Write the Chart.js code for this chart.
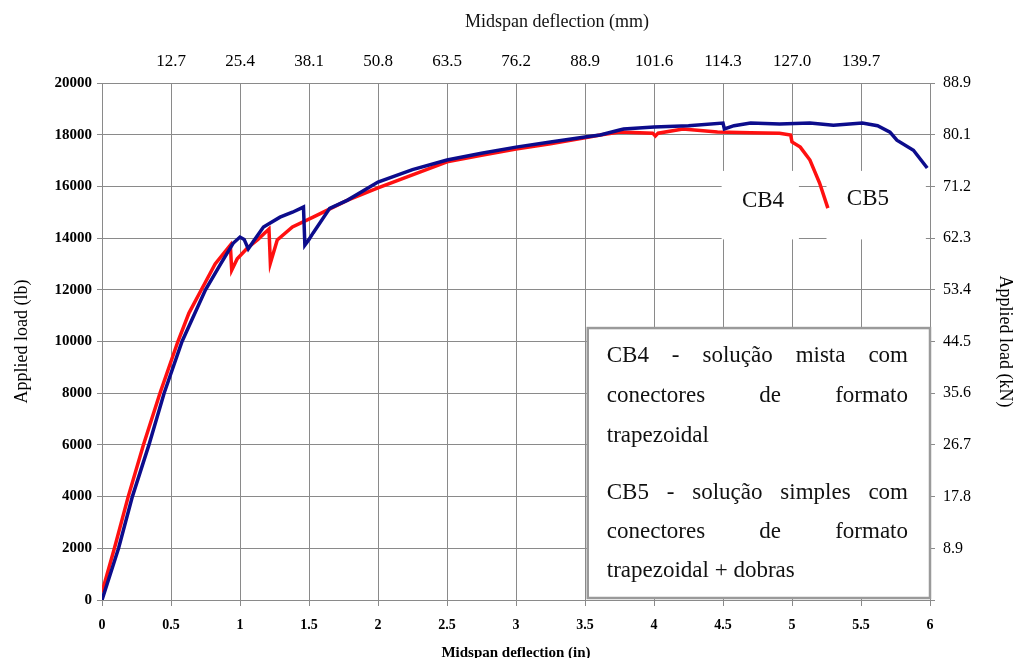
<!DOCTYPE html>
<html>
<head>
<meta charset="utf-8">
<script src="https://cdn.jsdelivr.net/npm/chart.js@4/dist/chart.umd.min.js"></script>
<style>
  html, body { margin: 0; padding: 0; background: #fff; }
  canvas { display: block; }
</style>
</head>
<body>
<canvas id="loadChart" width="1018" height="658"></canvas>
<script>
// CB4 - red curve (deflection in inches, load in lb)
const cb4Deflection = [0, 0.09, 0.19, 0.30, 0.42, 0.55, 0.63, 0.72, 0.82, 0.93, 0.94, 0.98, 1.05, 1.13, 1.21, 1.22, 1.27, 1.38, 1.53, 1.78, 2.0, 2.25, 2.5, 2.75, 3.0, 3.25, 3.5, 3.61, 3.75, 3.99, 4.01, 4.03, 4.21, 4.46, 4.70, 4.91, 4.99, 5.00, 5.06, 5.13, 5.20, 5.26];
const cb4Load = [300, 2000, 4000, 6000, 8000, 10000, 11100, 12000, 13000, 13730, 12760, 13200, 13600, 13950, 14350, 13030, 13930, 14430, 14810, 15470, 15940, 16450, 16950, 17200, 17450, 17650, 17880, 17990, 18100, 18060, 17950, 18060, 18220, 18100, 18080, 18060, 17990, 17720, 17520, 17020, 16130, 15160];

// CB5 - blue curve
const cb5Deflection = [0, 0.12, 0.22, 0.34, 0.45, 0.58, 0.75, 0.86, 0.95, 1.00, 1.03, 1.06, 1.10, 1.17, 1.29, 1.38, 1.46, 1.47, 1.50, 1.53, 1.65, 1.78, 2.0, 2.25, 2.5, 2.75, 3.0, 3.25, 3.5, 3.61, 3.75, 3.78, 4.0, 4.25, 4.5, 4.51, 4.58, 4.70, 4.91, 5.13, 5.30, 5.51, 5.62, 5.71, 5.76, 5.88, 5.98];
const cb5Load = [0, 2000, 4000, 6000, 8000, 10000, 12000, 13000, 13800, 14040, 13950, 13580, 13900, 14430, 14810, 15000, 15200, 13730, 13950, 14200, 15150, 15470, 16170, 16650, 17020, 17280, 17520, 17720, 17910, 17990, 18180, 18220, 18300, 18350, 18450, 18220, 18350, 18450, 18410, 18450, 18370, 18450, 18350, 18100, 17790, 17400, 16710];

// secondary axis labels (mm on top, kN on the right)
const topTickLabels = ['', '12.7', '25.4', '38.1', '50.8', '63.5', '76.2', '88.9', '101.6', '114.3', '127.0', '139.7', ''];
const rightTickLabels = ['', '8.9', '17.8', '26.7', '35.6', '44.5', '53.4', '62.3', '71.2', '80.1', '88.9'];

const legendLines = [
  { text: 'CB4 - solução mista com', justify: true },
  { text: 'conectores de formato', justify: true },
  { text: 'trapezoidal', justify: false },
  { text: 'CB5 - solução simples com', justify: true },
  { text: 'conectores de formato', justify: true },
  { text: 'trapezoidal + dobras', justify: false }
];

Chart.defaults.font.family = '"Liberation Serif", "Times New Roman", serif';
Chart.defaults.color = '#000';

const gridColor = '#8a8a8a';

function toPoints(xs, ys) {
  return xs.map((x, i) => ({ x: x, y: ys[i] }));
}

function drawJustified(ctx, text, left, right, y, justify) {
  if (!justify) {
    ctx.fillText(text, left, y);
    return;
  }
  const words = text.split(' ');
  let total = 0;
  words.forEach(w => { total += ctx.measureText(w).width; });
  const gap = (right - left - total) / (words.length - 1);
  let x = left;
  words.forEach(w => {
    ctx.fillText(w, x, y);
    x += ctx.measureText(w).width + gap;
  });
}

// white patches behind the CB4 / CB5 labels
const labelPatches = {
  id: 'labelPatches',
  beforeDatasetsDraw(chart) {
    const ctx = chart.ctx;
    const xs = chart.scales.x;
    const ys = chart.scales.y;
    const top = ys.getPixelForValue(16600);
    const bottom = ys.getPixelForValue(13950);
    ctx.save();
    ctx.fillStyle = '#fff';
    let l1 = xs.getPixelForValue(4.49), r1 = xs.getPixelForValue(5.05);
    let l2 = xs.getPixelForValue(5.25), r2 = xs.getPixelForValue(5.97);
    ctx.fillRect(l1, top, r1 - l1, bottom - top);
    ctx.fillRect(l2, top, r2 - l2, bottom - top);
    ctx.fillStyle = '#111';
    ctx.font = '23px "Liberation Serif", serif';
    ctx.textAlign = 'center';
    ctx.textBaseline = 'middle';
    ctx.fillText('CB4', xs.getPixelForValue(4.79), ys.getPixelForValue(15450));
    ctx.fillText('CB5', xs.getPixelForValue(5.55), ys.getPixelForValue(15520));
    ctx.restore();
  }
};

// legend text box and top axis title
const legendBox = {
  id: 'legendBox',
  afterDatasetsDraw(chart) {
    const ctx = chart.ctx;
    const area = chart.chartArea;
    const xs = chart.scales.x;
    const left = xs.getPixelForValue(3.52);
    const right = area.right;
    const top = chart.scales.y.getPixelForValue(10520);
    const bottom = area.bottom - 2;
    ctx.save();
    ctx.fillStyle = '#fff';
    ctx.fillRect(left, top, right - left, bottom - top);
    ctx.strokeStyle = '#9a9a9a';
    ctx.lineWidth = 2.5;
    ctx.strokeRect(left, top, right - left, bottom - top);

    ctx.fillStyle = '#111';
    ctx.font = '23px "Liberation Serif", serif';
    ctx.textAlign = 'left';
    ctx.textBaseline = 'middle';
    const offsets = [28, 68, 108, 165, 204, 243];
    legendLines.forEach((line, i) => {
      drawJustified(ctx, line.text, left + 19, right - 22, top + offsets[i], line.justify);
    });

    ctx.font = '18px "Liberation Serif", serif';
    ctx.textAlign = 'center';
    ctx.fillText('Midspan deflection (mm)', (area.left + area.right) / 2 + 41, 22);
    ctx.restore();
  }
};

const ctx = document.getElementById('loadChart').getContext('2d');
const loadChart = new Chart(ctx, {
  type: 'line',
  data: {
    datasets: [
      {
        label: 'CB4',
        data: toPoints(cb4Deflection, cb4Load),
        borderColor: '#ff1010',
        borderWidth: 3.5,
        pointRadius: 0,
        tension: 0,
        order: 1
      },
      {
        label: 'CB5',
        data: toPoints(cb5Deflection, cb5Load),
        borderColor: '#0c0c8c',
        borderWidth: 3.5,
        pointRadius: 0,
        tension: 0,
        order: 0
      }
    ]
  },
  options: {
    responsive: false,
    animation: false,
    layout: { padding: 0 },
    plugins: {
      legend: { display: false },
      tooltip: { enabled: false }
    },
    scales: {
      x: {
        type: 'linear',
        position: 'bottom',
        min: 0,
        max: 6,
        afterFit: (s) => { s.height = 58; },
        ticks: {
          stepSize: 0.5,
          padding: 11,
          maxRotation: 0,
          font: { size: 14, weight: 'bold' },
          color: '#000',
          callback: (value) => String(value)
        },
        grid: { color: gridColor, tickLength: 6, lineWidth: 1 },
        border: { color: gridColor, width: 1 },
        title: {
          display: true,
          text: 'Midspan deflection (in)',
          font: { size: 15, weight: 'bold' },
          padding: { top: 0, bottom: -4 }
        }
      },
      xTop: {
        type: 'linear',
        position: 'top',
        min: 0,
        max: 6,
        afterFit: (s) => { s.height = 83; },
        ticks: {
          stepSize: 0.5,
          padding: 11,
          maxRotation: 0,
          autoSkip: false,
          font: { size: 17 },
          callback: (value, index) => topTickLabels[index]
        },
        grid: { drawOnChartArea: false, drawTicks: false, color: gridColor },
        border: { color: gridColor, width: 1 }
      },
      y: {
        type: 'linear',
        position: 'left',
        min: 0,
        max: 20000,
        afterFit: (s) => { s.width = 102; },
        ticks: {
          stepSize: 2000,
          padding: 5,
          font: { size: 15, weight: 'bold' },
          color: '#000',
          callback: (value) => String(value)
        },
        grid: { color: gridColor, tickLength: 5, lineWidth: 1 },
        border: { color: gridColor, width: 1 },
        title: {
          display: true,
          text: 'Applied load (lb)',
          font: { size: 18 },
          padding: { top: 11, bottom: 0 }
        }
      },
      yRight: {
        type: 'linear',
        position: 'right',
        min: 0,
        max: 20000,
        afterFit: (s) => { s.width = 88; },
        ticks: {
          stepSize: 2000,
          padding: 8,
          autoSkip: false,
          font: { size: 16 },
          callback: (value, index) => rightTickLabels[index]
        },
        grid: { drawOnChartArea: false, color: gridColor, tickLength: 5 },
        border: { color: gridColor, width: 1 },
        title: {
          display: true,
          text: 'Applied load (kN)',
          font: { size: 18 },
          padding: { top: 2, bottom: 0 }
        }
      }
    }
  },
  plugins: [labelPatches, legendBox]
});
</script>
</body>
</html>
